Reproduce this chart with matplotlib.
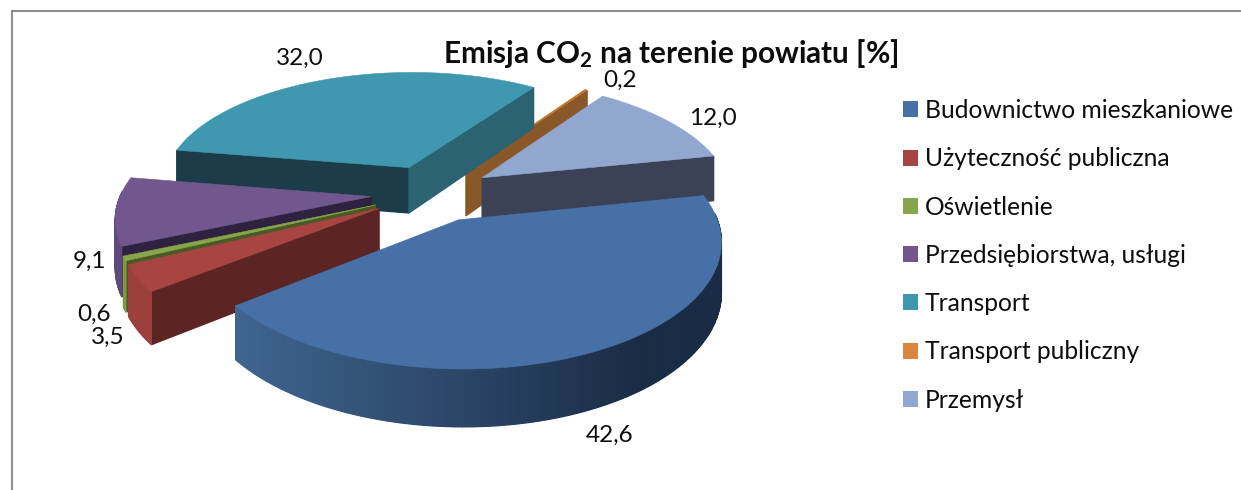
import numpy as np
import matplotlib
matplotlib.use("Agg")
import matplotlib.pyplot as plt
from matplotlib.patches import Polygon, Patch
from matplotlib.colors import to_rgb

categories = ["Budownictwo mieszkaniowe", "Użyteczność publiczna", "Oświetlenie",
              "Przedsiębiorstwa, usługi", "Transport", "Transport publiczny", "Przemysł"]
values = [42.6, 3.5, 0.6, 9.1, 32.0, 0.2, 12.0]
title_text = r"Emisja CO$\mathbf{_2}$ na terenie powiatu [%]"

top_colors = ["#4670a6", "#a84543", "#87a54a", "#72578f", "#4098b0", "#c2752f", "#92a7cf"]
legend_colors = ["#4670a6", "#a84543", "#87a54a", "#72578f", "#4098b0", "#db843d", "#92a7cf"]
start_wall = ["#3f6596", "#5c2422", "#4a5a24", "#2e2240", "#1b3c48", "#8a5828", "#3b4256"]
end_wall = ["#3f6596", "#5c2422", "#4a5a24", "#2e2240", "#2b6373", "#8a5828", "#3b4256"]
arc_left = ["#3f6590", "#9c403c", "#7f9a40", "#5e4a7e", "#2b6373", "#8a5828", "#3b4256"]
arc_right = ["#1a2c45", "#9c403c", "#7f9a40", "#5e4a7e", "#2b6373", "#8a5828", "#3b4256"]
label_xy = [(610, 435), (108, 337), (94, 314), (90, 261), (300, 58), (620, 80), (713, 118)]

plt.rcParams["font.family"] = ["Lato", "DejaVu Sans"]
plt.rcParams["mathtext.fontset"] = "custom"
plt.rcParams["mathtext.bf"] = "Lato:bold"
plt.rcParams["mathtext.rm"] = "Lato"

CX, CY, RX, RY, DIST, THICK, EXPL, START = 432, 193, 250, 117, 6.5, 47, 0.244, 11.5

fig = plt.figure(figsize=(12.41, 4.90), dpi=100)
ax = fig.add_axes([0, 0, 1, 1])
ax.set_xlim(0, 1241)
ax.set_ylim(490, 0)
ax.axis("off")


def project(u, v, drop=0.0):
    s = DIST / (DIST - v)
    return np.column_stack([CX + RX * u * s, CY + RY * v * s + drop * THICK * s])


def wall(lu, lv, color, z):
    poly = np.vstack([project(lu, lv), project(lu, lv, 1.0)[::-1]])
    ax.add_patch(Polygon(poly, closed=True, fc=color, ec=color, lw=0.9, zorder=z))


angles = START - np.cumsum([0] + values) / sum(values) * 360
order = [5, 4, 6, 3, 2, 1, 0]
for depth, i in enumerate(order):
    a0, a1 = angles[i], angles[i + 1]
    mid = np.radians((a0 + a1) / 2)
    ox, oy = EXPL * np.cos(mid), -EXPL * np.sin(mid)
    th = np.radians(np.linspace(a0, a1, max(int(abs(a1 - a0) * 1.5), 4)))
    uu = ox + np.cos(th)
    vv = oy - np.sin(th)
    z = 2 + depth
    # radial walls, only those facing the viewer
    for (eu, ev, col) in [(uu[0], vv[0], start_wall[i]), (uu[-1], vv[-1], end_wall[i])]:
        nu, nv = -(ev - oy), eu - ox
        if nu * np.cos(mid) - nv * np.sin(mid) > 0:
            nu, nv = -nu, -nv
        if nv > 0:
            wall(np.array([ox, eu]), np.array([oy, ev]), col, z)
    # outer rim, only the part facing the viewer
    xr = project(uu, vv)[:, 0]
    cl, cr = np.array(to_rgb(arc_left[i])), np.array(to_rgb(arc_right[i]))
    for k in range(len(uu) - 1):
        if (vv[k] + vv[k + 1]) / 2 < oy - 0.05:
            continue
        t = np.clip(((xr[k] + xr[k + 1]) / 2 - 235) / (640 - 235), 0, 1) if i == 0 else 0
        wall(uu[k:k + 2], vv[k:k + 2], cl + (cr - cl) * t, z + 0.1)
    top = project(np.r_[ox, uu], np.r_[oy, vv])
    ax.add_patch(Polygon(top, closed=True, fc=top_colors[i], ec=top_colors[i], lw=0.4, zorder=z + 0.5))

for v, (x, y) in zip(values, label_xy):
    ax.text(x, y, f"{v:.1f}".replace(".", ","), ha="center", va="center", fontsize=17.5,
            color="#0d0d0d", zorder=20)

ax.text(671, 54, title_text, ha="center", va="center", fontsize=21.4, fontweight="bold",
        color="#0d0d0d", zorder=21)

handles = [Patch(fc=c, ec="none") for c in legend_colors]
ax.legend(handles, categories, loc="upper left", bbox_to_anchor=(903, 99),
          bbox_transform=ax.transData, frameon=False, fontsize=17.75, handlelength=0.62,
          handleheight=0.62, handletextpad=0.26, labelspacing=1.025, borderaxespad=0,
          borderpad=0, labelcolor="#0d0d0d")

ax.plot([11.5, 11.5, 1241], [490, 11.5, 11.5], color="#8f8f8f", lw=1.5, zorder=1,
        solid_joinstyle="miter")

fig.savefig("out.png", dpi=100)
